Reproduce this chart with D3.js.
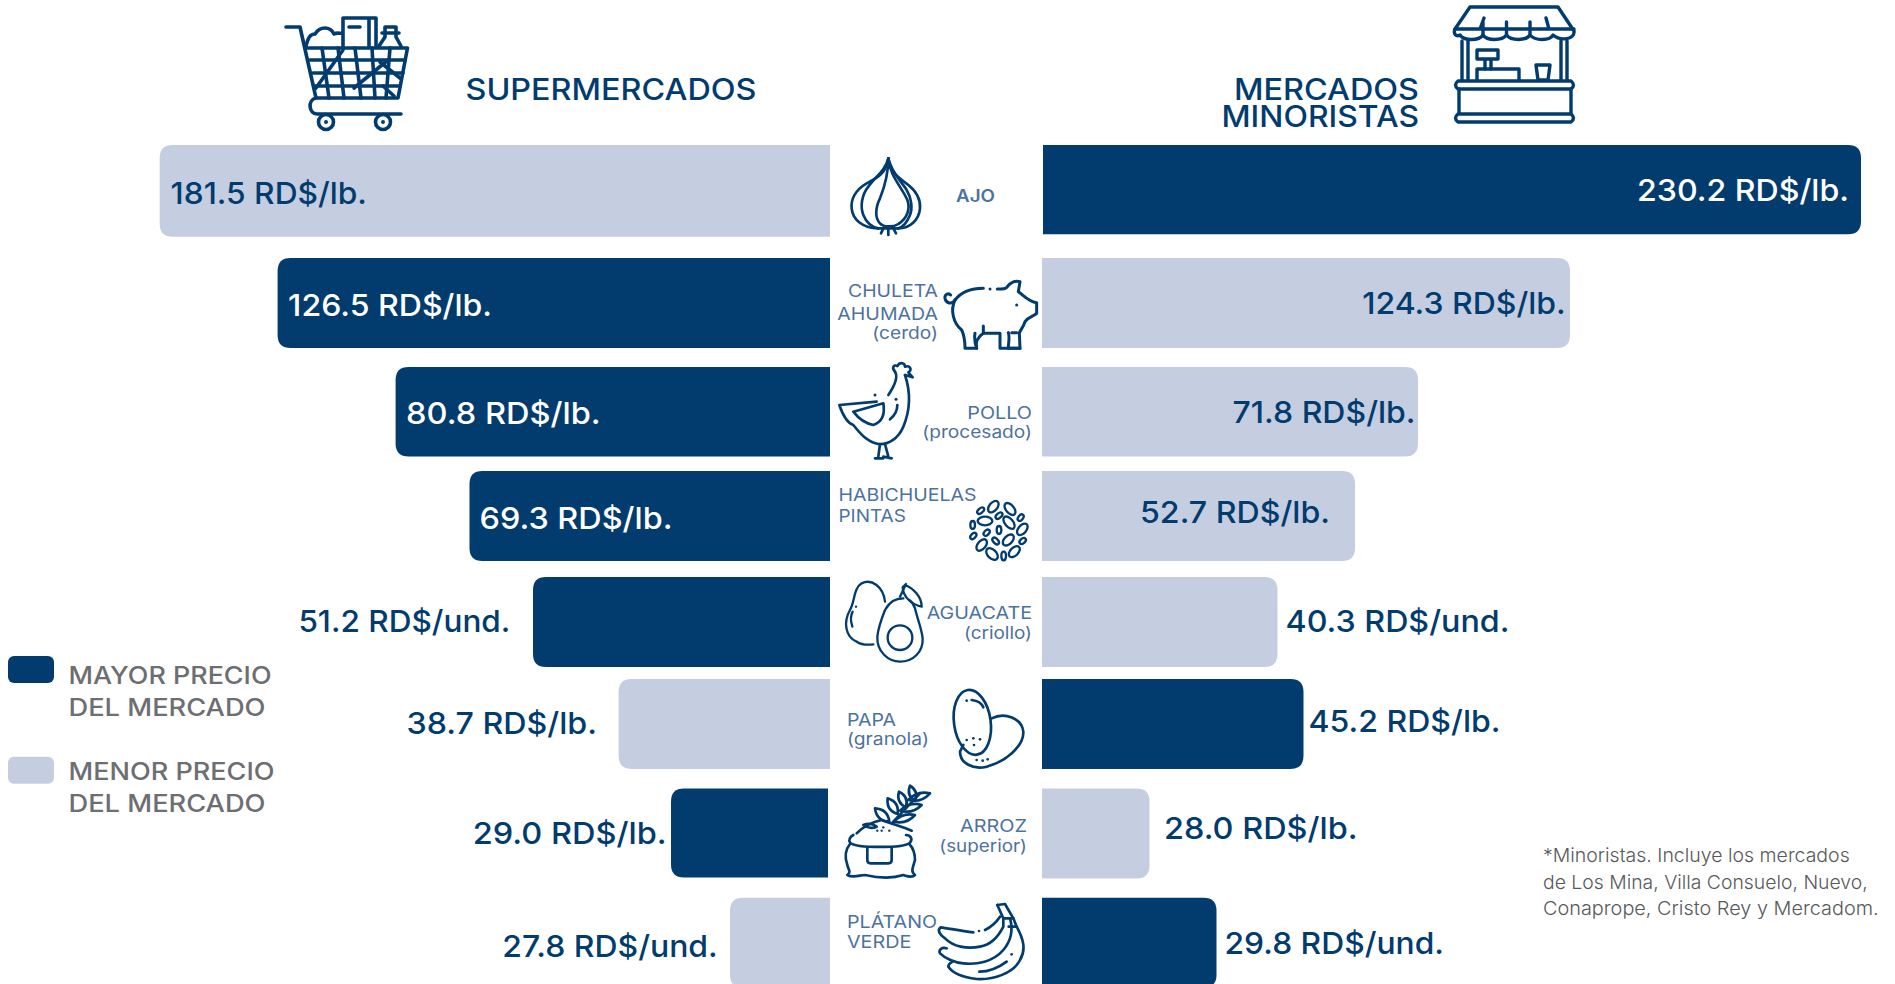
<!DOCTYPE html>
<html lang="es">
<head>
<meta charset="utf-8">
<title>Precios de mercado</title>
<script src="https://cdn.jsdelivr.net/npm/d3@7/dist/d3.min.js"></script>
<style>
html,body{margin:0;padding:0;background:#fff;overflow:hidden}
svg{display:block}
text{font-family:Inter,"Noto Sans",sans-serif}
</style>
</head>
<body>
<svg id="chart" width="1895" height="984" viewBox="0 0 1895 984"></svg>
<script>
// ---------- data ----------
const categories = ["Ajo","Chuleta ahumada (cerdo)","Pollo (procesado)","Habichuelas pintas","Aguacate (criollo)","Papa (granola)","Arroz (superior)","Plátano verde"];
const supermercados = [181.5,126.5,80.8,69.3,51.2,38.7,29.0,27.8];
const minoristas = [230.2,124.3,71.8,52.7,40.3,45.2,28.0,29.8];
const units = ["lb.","lb.","lb.","lb.","und.","lb.","lb.","und."];
const categoryLines = [["AJO"],["CHULETA","AHUMADA","(cerdo)"],["POLLO","(procesado)"],["HABICHUELAS","PINTAS"],["AGUACATE","(criollo)"],["PAPA","(granola)"],["ARROZ","(superior)"],["PLÁTANO","VERDE"]];
const footnoteLines = ["*Minoristas. Incluye los mercados","de Los Mina, Villa Consuelo, Nuevo,","Conaprope, Cristo Rey y Mercadom."];

// ---------- layout ----------
const DARK="#023b6e", LIGHT="#c5cee1", CAT="#4c729f", GREY="#6d6e71", NOTE="#58595b";
// the original graphic's bars are not proportional: a piecewise scale reproduces its value→length mapping
const scaleKnots  = [27.8,28,29,29.8,38.7,40.3,45.2,51.2,52.7,69.3,71.8,80.8,124.3,126.5,181.5,230.2];
const scaleLength = [100,107.5,157,174.5,211.4,235.5,261.5,297,313,360.5,376,434.4,528,552.4,670.3,818];
const len = d3.scaleLinear().domain(scaleKnots).range(scaleLength);
const rowY = d3.scaleOrdinal().domain(categories).range([145,258,367,471,577,679,788.5,897.7]);
const leftH  = [91.7,90,89.5,90,90,90,89,90];
const rightH = [89.3,90,89.5,90,90,90,90,90];
const leftBase  = [830,830,830,830,830,830,828,830];
const rightBase = [1043,1042,1042,1042,1042,1042,1042,1042];
const leftBaseline  = [204,316,424,529,631.5,733.5,843.5,957];
const rightBaseline = [201,314,423,522.5,631.5,732,839,954];
// signed gap from the bar's outer end: >0 inside the bar, <0 outside
const leftGap  = [10.8,10.5,10.5,10,-22.6,-21.6,-4.3,-12.2];
const rightGap = [12,4.3,2.5,25,-8,-5,-14.5,-8];
// rendered label widths: the installed font is narrower than the reference's, so text is set to these widths
const leftLabelW  = [196.5,204,194.5,193,212,190.5,194,215.5];
const rightLabelW = [212,203.5,183,190,224,192,193.5,219.5];
const catPos = [
 {a:"start",x:956,y:[201.5],w:[39]},
 {a:"end",x:938,y:[297,319.5,338.5],w:[90,100.7,65.7]},
 {a:"end",x:1032,y:[419.3,438],w:[64.7,109.7]},
 {a:"start",x:838.5,y:[500.7,522.3],w:[138,67.3]},
 {a:"end",x:1032,y:[619.3,639],w:[105.3,68]},
 {a:"start",x:847,y:[726,745],w:[49,82]},
 {a:"end",x:1027,y:[831.7,851.5],w:[67,87.7]},
 {a:"start",x:847,y:[928.3,947.7],w:[90,64.3]}
];

const svg = d3.select("#chart");
const fit = (sel,w) => sel.attr("textLength",w).attr("lengthAdjust","spacingAndGlyphs");

function barPath(x0,x1,y,h,r){
  // square at the centre, rounded at the outer end
  const s = x1>x0?1:-1, p = d3.path();
  p.moveTo(x0,y); p.lineTo(x1-s*r,y);
  p.quadraticCurveTo(x1,y,x1,y+r);
  p.lineTo(x1,y+h-r);
  p.quadraticCurveTo(x1,y+h,x1-s*r,y+h);
  p.lineTo(x0,y+h); p.closePath();
  return p.toString();
}

const rows = categories.map((c,i)=>({c,i,s:supermercados[i],m:minoristas[i],u:units[i]}));
const fmt = d3.format(".1f");

// left bars
svg.append("g").selectAll("path").data(rows).join("path")
  .attr("d",d=>barPath(leftBase[d.i],leftBase[d.i]-len(d.s),rowY(d.c),leftH[d.i],13))
  .attr("fill",d=>d.s>d.m?DARK:LIGHT);
// right bars
svg.append("g").selectAll("path").data(rows).join("path")
  .attr("d",d=>barPath(rightBase[d.i],rightBase[d.i]+len(d.m),rowY(d.c),rightH[d.i],13))
  .attr("fill",d=>d.m>d.s?DARK:LIGHT);

// value labels
const VAL_SIZE=30.5;
svg.append("g").selectAll("text").data(rows).join("text")
  .attr("font-size",VAL_SIZE).attr("font-weight",500)
  .attr("y",d=>leftBaseline[d.i])
  .attr("x",d=>leftBase[d.i]-len(d.s)+leftGap[d.i])
  .attr("text-anchor",d=>leftGap[d.i]>0?"start":"end")
  .attr("fill",d=>(leftGap[d.i]>0&&d.s>d.m)?"#fff":DARK)
  .attr("textLength",d=>leftLabelW[d.i]).attr("lengthAdjust","spacingAndGlyphs")
  .text(d=>`${fmt(d.s)} RD$/${d.u}`);
svg.append("g").selectAll("text").data(rows).join("text")
  .attr("font-size",VAL_SIZE).attr("font-weight",500)
  .attr("y",d=>rightBaseline[d.i])
  .attr("x",d=>rightBase[d.i]+len(d.m)-rightGap[d.i])
  .attr("text-anchor",d=>rightGap[d.i]>0?"end":"start")
  .attr("fill",d=>(rightGap[d.i]>0&&d.m>d.s)?"#fff":DARK)
  .attr("textLength",d=>rightLabelW[d.i]).attr("lengthAdjust","spacingAndGlyphs")
  .text(d=>`${fmt(d.m)} RD$/${d.u}`);

// category labels
const catG = svg.append("g").attr("fill",CAT).attr("font-size",17);
categoryLines.forEach((lines,i)=>{
  lines.forEach((t,j)=>{
    fit(catG.append("text").attr("x",catPos[i].x).attr("y",catPos[i].y[j])
      .attr("text-anchor",catPos[i].a).attr("font-weight",i===0?600:400).text(t),catPos[i].w[j]);
  });
});

// headers
const head = svg.append("g").attr("fill",DARK).attr("font-size",30).attr("font-weight",500);
fit(head.append("text").attr("x",465.5).attr("y",100).text("SUPERMERCADOS"),291);
const h2 = head.append("text").attr("text-anchor","end");
fit(h2.append("tspan").attr("x",1419).attr("y",100).text("MERCADOS"),185);
fit(h2.append("tspan").attr("x",1419).attr("y",126.7).text("MINORISTAS"),197.5);

// legend
const leg = svg.append("g");
[[656,DARK,"MAYOR PRECIO",684,715.5,203],[756.7,LIGHT,"MENOR PRECIO",780,811.5,206]].forEach(([y,col,t,b1,b2,w])=>{
  leg.append("rect").attr("x",8).attr("y",y).attr("width",46).attr("height",27).attr("rx",6).attr("fill",col);
  fit(leg.append("text").attr("x",68.5).attr("y",b1).attr("fill",GREY).attr("font-size",24).attr("font-weight",500).text(t),w);
  fit(leg.append("text").attr("x",68.5).attr("y",b2).attr("fill",GREY).attr("font-size",24).attr("font-weight",500).text("DEL MERCADO"),197);
});

// footnote
const noteW=[306.7,324.7,335.7];
svg.append("g").attr("fill",NOTE).attr("font-size",19).attr("font-weight",300)
  .selectAll("text").data(footnoteLines).join("text")
  .attr("x",1543).attr("y",(d,i)=>862.3+i*26.3)
  .attr("textLength",(d,i)=>noteW[i]).attr("lengthAdjust","spacingAndGlyphs").text(d=>d);

// ---------- line icons ----------
function icon(x,y,k,sw){
  return svg.append("g").attr("transform",`translate(${x},${y}) scale(${k})`)
    .attr("fill","none").attr("stroke",DARK).attr("stroke-width",sw)
    .attr("stroke-linecap","round").attr("stroke-linejoin","round");
}
function draw(g,paths){paths.forEach(d=>g.append("path").attr("d",d));}
function dots(g,pts,r){pts.forEach(([x,y])=>g.append("circle").attr("cx",x).attr("cy",y).attr("r",r).attr("fill",DARK).attr("stroke","none"));}
function leaf(x1,y1,x2,y2,b){
  const mx=(x1+x2)/2,my=(y1+y2)/2,dx=x2-x1,dy=y2-y1;
  return `M${x1} ${y1}Q${mx-dy*b} ${my+dx*b} ${x2} ${y2}Q${mx+dy*b} ${my-dx*b} ${x1} ${y1}Z`;
}

// cart
const cart=icon(0,0,1,3.6);
draw(cart,[
 "M286 27H300L316 98H398L407.5 48H306",
 "M310 60H405M313 73H403M315 86H400",
 "M322 48L329 98M338 48L344 98M355 48L361 98M372 48L375 98M390 48L386 98",
 "M316 88L343 50M354 88L388 60M380 62L400 78M383 86L394 96",
 "M316 98C307 100 309 114 317 114H401",
 "M306 46C308 38 310 34 315 34C320 26 330 26 334 34C338 32 340 34 342 33",
 "M343 46V18H376V46M369 18V46M349 27H360",
 "M379 46L385 37V27H396V37L401 46M382 33H399"
]);
[[326,122],[383,122]].forEach(([x,y])=>{cart.append("circle").attr("cx",x).attr("cy",y).attr("r",7.5);});
dots(cart,[[326,122],[383,122]],2);

// stall
const stall=icon(0,0,1,3.4);
draw(stall,[
 "M1470 7H1558L1574 31C1575 40 1560 41 1553 35C1550 41 1535 41 1530 35C1526 41 1511 41 1506.5 35C1502 41 1487 41 1483 35C1479 41 1464 41 1460 35C1456 37 1453 34 1455 29Z",
 "M1455 29H1574M1483 35V22M1506.5 35V22M1530 35V22M1480 29L1484 18M1549 29L1546 18",
 "M1462 41V80M1468 41V80M1561 41V80M1567 41V80",
 "M1458 81H1571Q1576 85 1571 89H1458Q1453 85 1458 81Z",
 "M1459 89V113M1571 89V113",
 "M1458 114H1571Q1576 118 1571 122H1458Q1453 118 1458 114Z",
 "M1477 50H1498V59H1477ZM1485 59V69M1491 59V69",
 "M1477 80V69H1519V80M1536 65H1550L1548 80H1538Z"
]);

// centre icons drawn in units of 1/3 px
const garlic=icon(820,140,1/3,8);
draw(garlic,[
 "M205 55C200 100 170 115 140 130C105 150 92 180 95 205C98 240 130 265 175 265",
 "M205 55C210 100 240 115 265 135C290 155 302 180 300 205C297 240 270 265 235 265",
 "M205 55C195 95 165 110 145 140C125 165 120 200 130 225C140 250 160 262 175 265",
 "M205 55C215 100 245 125 260 150C275 175 278 205 270 225C260 250 245 262 235 265",
 "M205 55C205 110 190 150 180 175C165 205 165 235 180 250C190 262 220 262 235 252C262 235 272 205 262 180C245 140 210 110 205 55",
 "M175 265H235M205 265V285M190 265L183 280M220 265L228 280"
]);

const pig=icon(820,140,1/3,9);
draw(pig,[
 "M405 480C395 495 378 490 375 475C373 463 385 458 392 465",
 "M405 480C425 455 450 445 490 445",
 "M532 447C550 447 558 447 562 440C570 428 585 420 600 425L595 455C610 465 625 485 650 488V520C640 530 625 530 615 545C610 560 605 565 598 578L600 625H565C565 610 570 590 565 578",
 "M405 480C390 510 400 550 425 570C435 590 435 610 435 625H470C465 605 475 590 490 580V558",
 "M470 625C465 610 462 595 465 580M490 580H540V625H600",
 "M590 578L575 578"
]);
dots(pig,[[510,447],[590,495]],4.5);

const chicken=icon(820,140,1/3,8);
draw(chicken,[
 "M225 695C215 685 220 672 232 678C240 665 255 668 255 680C270 675 278 690 265 697L278 712L255 705",
 "M225 695C235 710 225 735 205 765",
 "M255 705C270 750 275 800 250 860C235 895 205 915 175 912C140 905 120 880 100 855C85 850 70 830 58 795L170 785",
 "M190 790C195 820 190 845 160 855C135 850 115 835 100 815L190 790Z",
 "M232 795C232 815 220 830 210 838",
 "M180 912L175 950M195 912L205 950M165 955H190M190 950L215 955"
]);
dots(chicken,[[165,765],[228,778]],4.5);

const beans=icon(820,470,1/3,7);
[[520,110,20,12,-50],[570,117,21,12,50],[482,122,12,7,-40],[537,137,12,7,-40],[602,143,11,7,-50],
 [495,153,22,13,0],[567,158,22,12,50],[607,178,20,12,-50],[458,165,12,7,90],[537,180,12,7,90],
 [500,188,11,7,-45],[460,198,11,7,-45],[565,210,20,12,-45],[608,213,11,7,-40],[527,213,12,7,45],
 [485,225,20,12,-50],[583,245,20,12,-45],[516,252,21,13,45],[551,258,13,7,90]].forEach(([x,y,a,b,r])=>{
  beans.append("ellipse").attr("cx",x).attr("cy",y).attr("rx",a).attr("ry",b).attr("transform",`rotate(${r} ${x} ${y})`);
});

const avocado=icon(820,470,1/3,7);
draw(avocado,[
 "M195 395C190 350 155 325 125 340C100 355 105 395 90 420C70 455 75 500 110 515C125 525 145 525 160 523",
 "M98 425C90 440 92 455 97 470",
 "M250 385C225 385 210 395 195 420C185 445 175 470 172 500C170 545 205 575 240 575C280 575 310 545 308 505C305 475 290 440 285 415C282 405 275 395 268 390",
 "M255 345C280 355 305 380 305 410C280 405 250 385 248 352Z",
 "M258 342L240 380"
]);
avocado.append("circle").attr("cx",240).attr("cy",503).attr("r",37);
dots(avocado,[[108,410]],3.5);

const potato=icon(820,470,1/3,8);
potato.append("ellipse").attr("cx",457).attr("cy",757).attr("rx",55).attr("ry",98).attr("transform","rotate(-8 457 757)");
draw(potato,[
 "M515 745C555 725 605 745 610 785C612 830 555 875 500 890C460 900 420 880 420 845L430 825",
 "M455 690C475 692 485 700 490 712"
]);
dots(potato,[[440,692],[440,810],[460,805],[480,808],[462,825],[470,870],[488,872],[503,868]],4);

const rice=icon(820,770,1/3,8);
draw(rice,[
 "M100 195C90 200 85 210 90 218C110 235 250 235 270 218C280 205 270 195 258 195",
 "M110 190C130 170 160 155 185 150C210 160 245 170 275 182",
 "M90 222C75 240 75 265 82 285C85 300 95 305 82 315C100 325 120 315 135 315C180 325 220 325 250 315C260 318 275 325 285 315C270 305 280 290 285 270C285 250 280 235 268 222",
 "M142 235V270Q142 280 152 280H205Q215 280 215 270V235",
 "M215 160L300 70",
 leaf(130,165,170,170,.3),leaf(165,115,208,155,.42),leaf(203,85,233,132,.42),leaf(237,65,258,112,.42),
 leaf(270,47,285,92,.42),leaf(222,155,285,135,.3),leaf(240,122,305,105,.3),leaf(265,90,330,70,.3)
]);
dots(rice,[[172,182],[190,172],[208,182],[185,182]],3.5);

const banana=icon(820,770,1/3,8);
draw(banana,[
 "M532 405L555 402L580 445L590 470C612 510 618 540 600 570C580 610 520 630 470 627C430 622 400 612 385 590C385 582 392 578 398 575",
 "M532 405L550 445V470C535 500 510 525 480 530C440 538 400 530 375 505C360 495 350 480 362 472C385 475 420 482 460 487",
 "M495 480C515 470 530 455 540 440",
 "M570 445C580 480 575 510 550 540C520 575 470 585 430 580C405 578 375 565 360 550C355 540 365 530 380 535",
 "M478 605C510 605 540 590 560 575",
 "M550 445H570L580 445M566 470H590"
]);
dots(banana,[[477,483],[575,553]],4);
</script>
</body>
</html>
